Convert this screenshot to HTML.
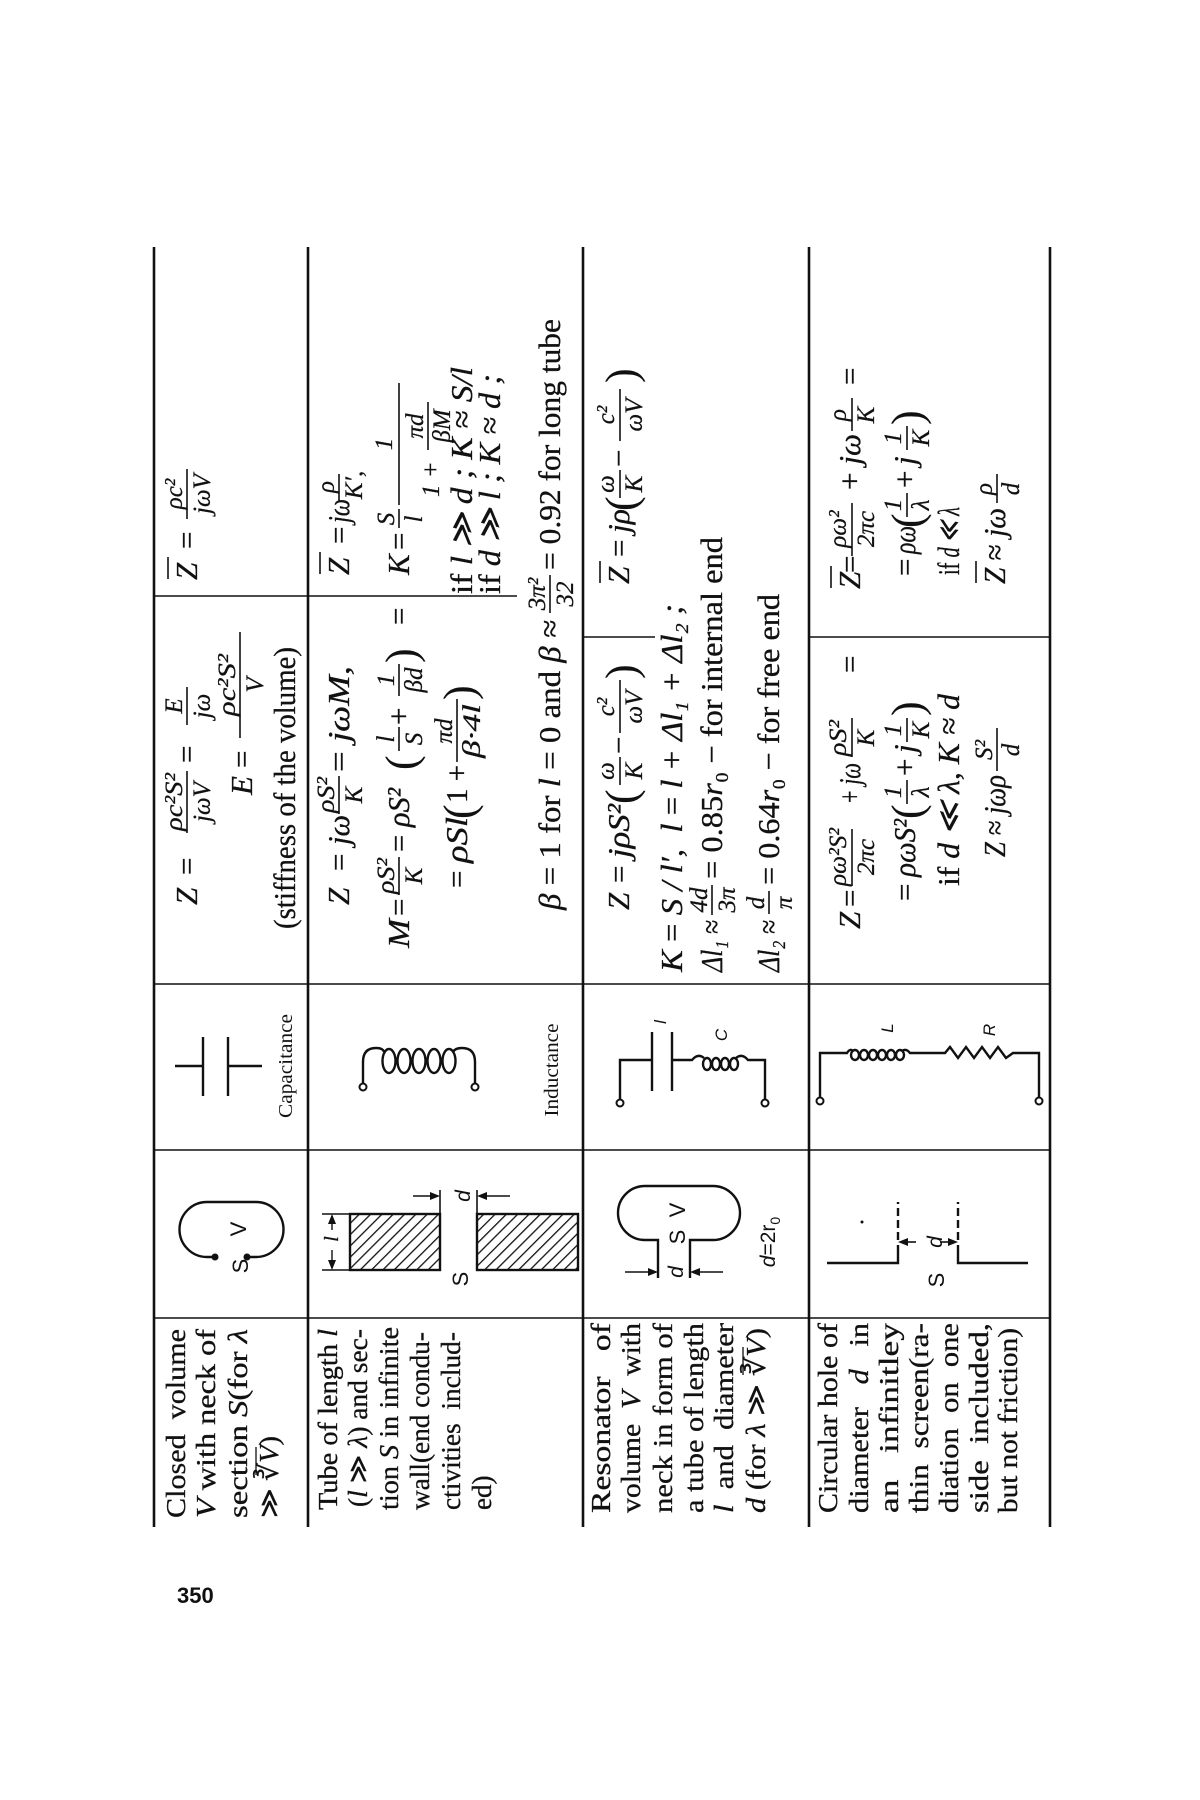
<!DOCTYPE html>
<html><head><meta charset="utf-8"><style>
html,body{margin:0;padding:0;background:#fff;}
svg{display:block;}
text{fill:#111;}
.m{font-family:"Liberation Serif",serif;font-style:italic;font-size:31px;stroke:#111;stroke-width:0.3;}
.u{font-family:"Liberation Serif",serif;font-size:31px;stroke:#111;stroke-width:0.3;}
.f{font-family:"Liberation Serif",serif;font-style:italic;font-size:25px;stroke:#111;stroke-width:0.25;}
.p{font-family:"Liberation Serif",serif;font-size:44px;}
.d{font-family:"Liberation Serif",serif;font-size:27px;stroke:#111;stroke-width:0.3;}
.s{font-family:"Liberation Sans",sans-serif;font-size:22px;}
.si{font-family:"Liberation Sans",sans-serif;font-style:italic;font-size:21px;}
.lab{font-family:"Liberation Serif",serif;font-size:20px;}
</style></head><body>
<svg width="1200" height="1800" viewBox="0 0 1200 1800" xmlns="http://www.w3.org/2000/svg">
<defs>
<pattern id="h" width="8" height="8" patternUnits="userSpaceOnUse" patternTransform="rotate(45)">
<rect width="8" height="8" fill="#fff"/><line x1="0" y1="0" x2="0" y2="8" stroke="#111" stroke-width="2.6"/>
</pattern>
</defs>
<rect width="1200" height="1800" fill="#fff"/>
<g stroke="#111" fill="none">
<line x1="154" y1="247" x2="154" y2="1527" stroke-width="2.6"/>
<line x1="308" y1="247" x2="308" y2="1527" stroke-width="2.6"/>
<line x1="583" y1="247" x2="583" y2="1527" stroke-width="2.6"/>
<line x1="809" y1="247" x2="809" y2="1527" stroke-width="2.6"/>
<line x1="1050" y1="247" x2="1050" y2="1527" stroke-width="2.6"/>
<line x1="154" y1="1318" x2="1050" y2="1318" stroke-width="1.6"/>
<line x1="154" y1="1150" x2="1050" y2="1150" stroke-width="1.6"/>
<line x1="154" y1="984" x2="1050" y2="984" stroke-width="1.6"/>
<line x1="154" y1="596" x2="308" y2="596" stroke-width="1.4"/>
<line x1="308" y1="596" x2="517" y2="596" stroke-width="1.4"/>
<line x1="583" y1="637" x2="655" y2="637" stroke-width="1.4"/>
<line x1="809" y1="637" x2="1050" y2="637" stroke-width="1.4"/>
</g>
<text x="177" y="1603" style="font-family:'Liberation Sans',sans-serif;font-weight:bold;font-size:22px">350</text>

<g stroke="#111" stroke-width="2.4" fill="none">
<path d="M215,1257 L207,1257 A27.5,27.5 0 0 1 207,1202 L256,1202 A27.5,27.5 0 0 1 256,1257 L247,1257"/>
<line x1="175" y1="1066" x2="203" y2="1066"/><line x1="203" y1="1037" x2="203" y2="1096"/>
<line x1="228" y1="1037" x2="228" y2="1096"/><line x1="228" y1="1066" x2="262" y2="1066"/>
<path d="M363,1084 V1062 Q363,1048 376,1048 Q383,1048 384,1052"/>
<path d="M475,1084 V1062 Q475,1048 462,1048 Q455,1048 453,1052"/>
<ellipse cx="389" cy="1061" rx="6.5" ry="12"/><ellipse cx="404" cy="1061" rx="6.5" ry="12"/>
<ellipse cx="419" cy="1061" rx="6.5" ry="12"/><ellipse cx="434" cy="1061" rx="6.5" ry="12"/>
<ellipse cx="449" cy="1061" rx="6.5" ry="12"/>
<rect x="350" y="1214" width="90" height="56" fill="url(#h)"/>
<rect x="477" y="1214" width="101" height="56" fill="url(#h)"/>
<line x1="322" y1="1214" x2="350" y2="1214" stroke-width="1.6"/><line x1="322" y1="1270" x2="350" y2="1270" stroke-width="1.6"/>
<line x1="332" y1="1216" x2="332" y2="1230" stroke-width="1.4"/><line x1="332" y1="1250" x2="332" y2="1268" stroke-width="1.4"/>
<line x1="440" y1="1190" x2="440" y2="1214" stroke-width="1.6"/><line x1="477" y1="1190" x2="477" y2="1214" stroke-width="1.6"/>
<line x1="413" y1="1196" x2="434" y2="1196" stroke-width="1.6"/><line x1="483" y1="1196" x2="510" y2="1196" stroke-width="1.6"/>
<path d="M620,1100 V1060 H652"/><line x1="652" y1="1032" x2="652" y2="1091"/>
<line x1="672" y1="1032" x2="672" y2="1091"/><path d="M672,1060 H692 Q698,1053 704,1058"/>
<path d="M736,1058 Q742,1053 748,1060 H765 V1100"/>
<ellipse cx="707" cy="1064" rx="4" ry="6"/><ellipse cx="716" cy="1064" rx="4" ry="6"/>
<ellipse cx="725" cy="1064" rx="4" ry="6"/><ellipse cx="734" cy="1064" rx="4" ry="6"/>
<path d="M658,1278 V1240 L645,1240 A27,27 0 0 1 645,1186 L713,1186 A27,27 0 0 1 713,1240 L690,1240 V1278"/>
<line x1="625" y1="1272" x2="652" y2="1272" stroke-width="1.6"/><line x1="696" y1="1272" x2="723" y2="1272" stroke-width="1.6"/>
<path d="M820,1098 V1053 H847 Q850,1048 853,1051"/>
<ellipse cx="855" cy="1055" rx="4" ry="5"/><ellipse cx="864" cy="1055" rx="4" ry="5"/>
<ellipse cx="873" cy="1055" rx="4" ry="5"/><ellipse cx="882" cy="1055" rx="4" ry="5"/>
<ellipse cx="891" cy="1055" rx="4" ry="5"/><ellipse cx="900" cy="1055" rx="4" ry="5"/>
<path d="M902,1051 Q906,1048 910,1053 H945 L950,1047 L958,1058 L966,1047 L974,1058 L982,1047 L990,1058 L998,1047 L1006,1058 L1013,1053 H1039 V1098"/>
<path d="M827,1263 H898 V1245"/><line x1="898" y1="1240" x2="898" y2="1202" stroke-dasharray="8,4"/>
<path d="M1028,1263 H958 V1245"/><line x1="958" y1="1240" x2="958" y2="1202" stroke-dasharray="8,4"/>
<line x1="904" y1="1242" x2="916" y2="1242" stroke-width="1.6"/><line x1="940" y1="1242" x2="952" y2="1242" stroke-width="1.6"/>
</g>
<g fill="#111">
<circle cx="215" cy="1257" r="3.5"/><circle cx="247" cy="1257" r="3.5"/>
<polygon points="332,1214 328,1224 336,1224"/><polygon points="332,1270 328,1260 336,1260"/>
<polygon points="440,1196 430,1192 430,1200"/><polygon points="477,1196 487,1192 487,1200"/>
<polygon points="658,1272 648,1268 648,1276"/><polygon points="690,1272 700,1268 700,1276"/>
<polygon points="898,1242 908,1238 908,1246"/><polygon points="958,1242 948,1238 948,1246"/>
<circle cx="862" cy="1222" r="1.5"/>
</g>
<g fill="#fff" stroke="#111" stroke-width="2">
<circle cx="363" cy="1087" r="3.5"/><circle cx="475" cy="1087" r="3.5"/>
<circle cx="620" cy="1103" r="3.5"/><circle cx="765" cy="1103" r="3.5"/>
<circle cx="820" cy="1101" r="3.5"/><circle cx="1039" cy="1101" r="3.5"/>
</g>

<g transform="translate(154,1525) rotate(-90)">
<g class="d">
<text x="7" y="31" textLength="189" lengthAdjust="spacingAndGlyphs">Closed&#160;&#160;volume</text>
<text x="7" y="61" textLength="189" lengthAdjust="spacingAndGlyphs"><tspan font-style="italic">V</tspan> with neck of</text>
<text x="7" y="93" textLength="189" lengthAdjust="spacingAndGlyphs">section <tspan font-style="italic">S</tspan>(for <tspan font-style="italic">λ</tspan></text>
<text x="7" y="124" textLength="82" lengthAdjust="spacingAndGlyphs">≫ ∛<tspan font-style="italic">V</tspan>)</text>
<text x="15" y="183" textLength="181" lengthAdjust="spacingAndGlyphs">Tube of length <tspan font-style="italic">l</tspan></text>
<text x="18" y="213" textLength="178" lengthAdjust="spacingAndGlyphs">(<tspan font-style="italic">l</tspan> ≫ <tspan font-style="italic">λ</tspan>) and sec-</text>
<text x="15" y="244" textLength="183" lengthAdjust="spacingAndGlyphs">tion <tspan font-style="italic">S</tspan> in infinite</text>
<text x="15" y="275" textLength="178" lengthAdjust="spacingAndGlyphs">wall(end condu-</text>
<text x="15" y="306" textLength="178" lengthAdjust="spacingAndGlyphs">ctivities&#160;&#160;includ-</text>
<text x="15" y="337">ed)</text>
<text x="12" y="456" textLength="190" lengthAdjust="spacingAndGlyphs">Resonator&#160;&#160;&#160;of</text>
<text x="12" y="486" textLength="190" lengthAdjust="spacingAndGlyphs">volume&#160;&#160;<tspan font-style="italic">V</tspan>&#160;&#160;with</text>
<text x="12" y="518" textLength="190" lengthAdjust="spacingAndGlyphs">neck in form of</text>
<text x="12" y="549" textLength="190" lengthAdjust="spacingAndGlyphs">a tube of length</text>
<text x="12" y="579" textLength="190" lengthAdjust="spacingAndGlyphs"><tspan font-style="italic">l</tspan>&#160;&#160;and&#160;&#160;diameter</text>
<text x="12" y="611" textLength="185" lengthAdjust="spacingAndGlyphs"><tspan font-style="italic">d</tspan> (for <tspan font-style="italic">λ</tspan> ≫ ∛<tspan font-style="italic">V</tspan>)</text>
<text x="12" y="683" textLength="190" lengthAdjust="spacingAndGlyphs">Circular hole of</text>
<text x="12" y="714" textLength="190" lengthAdjust="spacingAndGlyphs">diameter&#160;&#160;&#160;<tspan font-style="italic">d</tspan>&#160;&#160;&#160;in</text>
<text x="12" y="744" textLength="190" lengthAdjust="spacingAndGlyphs">an&#160;&#160;&#160;infinitley</text>
<text x="12" y="774" textLength="190" lengthAdjust="spacingAndGlyphs">thin&#160;&#160;screen(ra-</text>
<text x="12" y="804" textLength="190" lengthAdjust="spacingAndGlyphs">diation&#160;&#160;on&#160;&#160;one</text>
<text x="12" y="834" textLength="190" lengthAdjust="spacingAndGlyphs">side&#160;&#160;included,</text>
<text x="12" y="863" textLength="185" lengthAdjust="spacingAndGlyphs">but not friction)</text>
</g>
<g stroke="#111" stroke-width="1.3">
<line x1="50" y1="102" x2="78" y2="102"/><line x1="150" y1="589" x2="178" y2="589"/>
</g>
<text class="s" x="259" y="94" text-anchor="middle">S</text>
<text class="s" x="296" y="92" text-anchor="middle">V</text>
<text class="m" x="286" y="184" text-anchor="middle" style="font-size:20px">l</text>
<text class="s" x="246" y="314" text-anchor="middle">S</text>
<text class="si" x="329" y="316" text-anchor="middle">d</text>
<text class="si" x="503" y="512" text-anchor="middle" style="font-size:17px">l</text>
<text class="si" x="490" y="573" text-anchor="middle" style="font-size:17px">C</text>
<text class="s" x="315" y="531" text-anchor="middle">V</text>
<text class="s" x="288" y="531" text-anchor="middle">S</text>
<text class="si" x="253" y="529" text-anchor="middle">d</text>
<text class="si" x="283" y="621" text-anchor="middle">d<tspan font-style="normal">=2r</tspan><tspan font-style="normal" font-size="14" dy="5">0</tspan></text>
<text class="si" x="497" y="739" text-anchor="middle" style="font-size:17px">L</text>
<text class="si" x="495" y="841" text-anchor="middle" style="font-size:17px">R</text>
<text class="si" x="283" y="788" text-anchor="middle">d</text>
<text class="s" x="245" y="790" text-anchor="middle">S</text>
<text class="lab" x="459" y="138" text-anchor="middle" textLength="104" lengthAdjust="spacingAndGlyphs">Capacitance</text>
<text class="lab" x="455" y="404" text-anchor="middle" textLength="93" lengthAdjust="spacingAndGlyphs">Inductance</text>

<g stroke="#111" stroke-width="1.6">
<line x1="692" y1="33" x2="754" y2="33"/><line x1="800" y1="33" x2="838" y2="33"/>
<line x1="787" y1="86" x2="893" y2="86"/><line x1="1006" y1="33" x2="1056" y2="33"/>
<line x1="946" y1="14" x2="968" y2="14"/>
<line x1="711" y1="185" x2="749" y2="185"/>
<line x1="630" y1="245" x2="668" y2="245"/><line x1="774" y1="245" x2="798" y2="245"/><line x1="829" y1="245" x2="861" y2="245"/>
<line x1="763" y1="303" x2="826" y2="303"/>
<line x1="912" y1="396" x2="950" y2="396"/>
<line x1="951" y1="166" x2="973" y2="166"/><line x1="1024" y1="185" x2="1051" y2="185"/>
<line x1="997" y1="245" x2="1016" y2="245"/><line x1="1020" y1="245" x2="1142" y2="245"/><line x1="1075" y1="274" x2="1123" y2="274"/>
<line x1="740" y1="466" x2="768" y2="466"/><line x1="792" y1="466" x2="845" y2="466"/>
<line x1="942" y1="446" x2="964" y2="446"/><line x1="1027" y1="466" x2="1055" y2="466"/><line x1="1084" y1="466" x2="1136" y2="466"/>
<line x1="610" y1="558" x2="640" y2="558"/><line x1="611" y1="615" x2="634" y2="615"/>
<line x1="639" y1="698" x2="696" y2="698"/><line x1="768" y1="698" x2="807" y2="698"/>
<line x1="721" y1="753" x2="745" y2="753"/><line x1="783" y1="753" x2="807" y2="753"/>
<line x1="754" y1="843" x2="797" y2="843"/>
<line x1="937" y1="677" x2="959" y2="677"/><line x1="969" y1="698" x2="1022" y2="698"/><line x1="1094" y1="698" x2="1127" y2="698"/>
<line x1="1008" y1="753" x2="1032" y2="753"/><line x1="1075" y1="753" x2="1099" y2="753"/>
<line x1="942" y1="822" x2="964" y2="822"/><line x1="1022" y1="843" x2="1051" y2="843"/>
</g>

<!-- row 1 -->
<text class="m" x="620" y="43">Z</text><text class="u" x="650" y="43">=</text>
<text class="f" x="723" y="28" text-anchor="middle" textLength="58" lengthAdjust="spacingAndGlyphs">ρc²S²</text><text class="f" x="723" y="56" text-anchor="middle">jωV</text>
<text class="u" x="762" y="43">=</text>
<text class="f" x="819" y="28" text-anchor="middle">E</text><text class="f" x="819" y="56" text-anchor="middle">jω</text>
<text class="m" x="730" y="98">E</text><text class="u" x="757" y="98">=</text>
<text class="f" x="840" y="81" text-anchor="middle" textLength="62" lengthAdjust="spacingAndGlyphs">ρc²S²</text><text class="f" x="840" y="109" text-anchor="middle">V</text>
<text class="u" x="596" y="141" textLength="282" lengthAdjust="spacingAndGlyphs">(stiffness of the volume)</text>
<text class="m" x="945" y="43">Z</text><text class="u" x="976" y="43">=</text>
<text class="f" x="1031" y="28" text-anchor="middle">ρc²</text><text class="f" x="1031" y="56" text-anchor="middle">jωV</text>

<!-- row 2 -->
<text class="m" x="620" y="195">Z</text><text class="u" x="654" y="195">=</text><text class="m" x="680" y="195" textLength="30" lengthAdjust="spacingAndGlyphs">jω</text>
<text class="f" x="730" y="180" text-anchor="middle" textLength="36" lengthAdjust="spacingAndGlyphs">ρS²</text><text class="f" x="730" y="208" text-anchor="middle">K</text>
<text class="m" x="753" y="195" textLength="106" lengthAdjust="spacingAndGlyphs"><tspan font-style="normal">=</tspan> jωM,</text>
<text class="m" x="577" y="255" textLength="29" lengthAdjust="spacingAndGlyphs">M</text><text class="u" x="609" y="255">=</text>
<text class="f" x="649" y="240" text-anchor="middle" textLength="36" lengthAdjust="spacingAndGlyphs">ρS²</text><text class="f" x="649" y="268" text-anchor="middle">K</text>
<text class="m" x="673" y="255" textLength="64" lengthAdjust="spacingAndGlyphs"><tspan font-style="normal">=</tspan> ρS²</text>
<text class="p" x="755" y="262">(</text>
<text class="f" x="786" y="240" text-anchor="middle">l</text><text class="f" x="786" y="268" text-anchor="middle">S</text>
<text class="u" x="800" y="255">+</text>
<text class="f" x="845" y="240" text-anchor="middle">1</text><text class="f" x="845" y="268" text-anchor="middle">βd</text>
<text class="p" x="862" y="262">)</text><text class="u" x="900" y="255">=</text>
<text class="u" x="637" y="313">=</text><text class="m" x="662" y="313" textLength="46" lengthAdjust="spacingAndGlyphs">ρSl</text><text class="p" x="706" y="320">(</text>
<text class="u" x="722" y="313" textLength="38" lengthAdjust="spacingAndGlyphs">1 +</text>
<text class="f" x="794" y="298" text-anchor="middle">πd</text><text class="f" x="794" y="326" text-anchor="middle" textLength="54" lengthAdjust="spacingAndGlyphs">β·4l</text>
<text class="p" x="825" y="320">)</text>
<text class="m" x="615" y="406" textLength="290" lengthAdjust="spacingAndGlyphs">β <tspan font-style="normal">= 1 for</tspan> l <tspan font-style="normal">= 0 and</tspan> β ≈</text>
<text class="f" x="931" y="391" text-anchor="middle">3π²</text><text class="f" x="931" y="419" text-anchor="middle">32</text>
<text class="u" x="955" y="406" textLength="251" lengthAdjust="spacingAndGlyphs">= 0.92 for long tube</text>
<text class="m" x="950" y="195">Z</text><text class="u" x="981" y="195">=</text><text class="m" x="1002" y="195" textLength="24" lengthAdjust="spacingAndGlyphs">jω</text>
<text class="f" x="1038" y="180" text-anchor="middle">ρ</text><text class="f" x="1040" y="208" text-anchor="middle">K′,</text>
<text class="m" x="950" y="255">K</text><text class="u" x="975" y="255">=</text>
<text class="f" x="1006" y="240" text-anchor="middle">S</text><text class="f" x="1006" y="268" text-anchor="middle">l</text>
<text class="f" x="1081" y="238" text-anchor="middle">1</text>
<text class="f" x="1028" y="285">1 +</text>
<text class="f" x="1099" y="269" text-anchor="middle">πd</text><text class="f" x="1099" y="296" text-anchor="middle">βM</text>
<text class="m" x="931" y="318" textLength="227" lengthAdjust="spacingAndGlyphs"><tspan font-style="normal">if</tspan> l ≫ d ; K ≈ S/l</text>
<text class="m" x="931" y="346" textLength="220" lengthAdjust="spacingAndGlyphs"><tspan font-style="normal">if</tspan> d ≫ l ; K ≈ d ;</text>

<!-- row 3 -->
<text class="m" x="615" y="475">Z</text><text class="u" x="642" y="475">=</text><text class="m" x="667" y="475" textLength="54" lengthAdjust="spacingAndGlyphs">jρS²</text>
<text class="p" x="721" y="482">(</text>
<text class="f" x="754" y="460" text-anchor="middle">ω</text><text class="f" x="754" y="488" text-anchor="middle">K</text>
<text class="u" x="771" y="475">−</text>
<text class="f" x="818" y="460" text-anchor="middle">c²</text><text class="f" x="818" y="488" text-anchor="middle">ωV</text>
<text class="p" x="846" y="482">)</text>
<text class="m" x="553" y="528" textLength="368" lengthAdjust="spacingAndGlyphs">K <tspan font-style="normal">=</tspan> S / l′, &#160;l <tspan font-style="normal">=</tspan> l + Δl₁ + Δl₂ ;</text>
<text class="m" x="553" y="568" textLength="52" lengthAdjust="spacingAndGlyphs">Δl₁ ≈</text>
<text class="f" x="625" y="553" text-anchor="middle">4d</text><text class="f" x="625" y="581" text-anchor="middle">3π</text>
<text class="u" x="646" y="568" textLength="342" lengthAdjust="spacingAndGlyphs">= 0.85<tspan font-style="italic">r</tspan>₀ − for internal end</text>
<text class="m" x="553" y="625" textLength="52" lengthAdjust="spacingAndGlyphs">Δl₂ ≈</text>
<text class="f" x="622" y="610" text-anchor="middle">d</text><text class="f" x="622" y="638" text-anchor="middle">π</text>
<text class="u" x="640" y="625" textLength="291" lengthAdjust="spacingAndGlyphs">= 0.64<tspan font-style="italic">r</tspan>₀ − for free end</text>
<text class="m" x="941" y="475">Z</text><text class="u" x="968" y="475">=</text><text class="m" x="992" y="475" textLength="24" lengthAdjust="spacingAndGlyphs">jρ</text>
<text class="p" x="1014" y="482">(</text>
<text class="f" x="1041" y="460" text-anchor="middle">ω</text><text class="f" x="1041" y="488" text-anchor="middle">K</text>
<text class="u" x="1058" y="475">−</text>
<text class="f" x="1110" y="460" text-anchor="middle">c²</text><text class="f" x="1110" y="488" text-anchor="middle">ωV</text>
<text class="p" x="1142" y="482">)</text>

<!-- row 4 -->
<text class="m" x="596" y="706">Z</text><text class="u" x="618" y="706">=</text>
<text class="f" x="668" y="692" text-anchor="middle" textLength="58" lengthAdjust="spacingAndGlyphs">ρω²S²</text><text class="f" x="668" y="720" text-anchor="middle">2πc</text>
<text class="m" x="722" y="706" textLength="40" lengthAdjust="spacingAndGlyphs"><tspan font-style="normal">+</tspan> jω</text>
<text class="f" x="787" y="692" text-anchor="middle" textLength="36" lengthAdjust="spacingAndGlyphs">ρS²</text><text class="f" x="787" y="720" text-anchor="middle">K</text>
<text class="u" x="852" y="706">=</text>
<text class="u" x="624" y="761">=</text><text class="m" x="648" y="761" textLength="58" lengthAdjust="spacingAndGlyphs">ρωS²</text><text class="p" x="706" y="768">(</text>
<text class="f" x="733" y="747" text-anchor="middle">1</text><text class="f" x="733" y="775" text-anchor="middle">λ</text>
<text class="u" x="749" y="761">+</text><text class="m" x="772" y="761">j</text>
<text class="f" x="795" y="747" text-anchor="middle">1</text><text class="f" x="795" y="775" text-anchor="middle">K</text>
<text class="p" x="809" y="768">)</text>
<text class="m" x="639" y="805" textLength="192" lengthAdjust="spacingAndGlyphs"><tspan font-style="normal">if</tspan> d ≪ λ, K ≈ d</text>
<text class="m" x="668" y="851" textLength="82" lengthAdjust="spacingAndGlyphs">Z ≈ jωρ</text>
<text class="f" x="775" y="838" text-anchor="middle">S²</text><text class="f" x="775" y="865" text-anchor="middle">d</text>
<text class="m" x="936" y="706">Z</text><text class="u" x="952" y="706">=</text>
<text class="f" x="996" y="692" text-anchor="middle">ρω²</text><text class="f" x="996" y="720" text-anchor="middle">2πc</text>
<text class="m" x="1035" y="706" textLength="56" lengthAdjust="spacingAndGlyphs"><tspan font-style="normal">+</tspan> jω</text>
<text class="f" x="1110" y="692" text-anchor="middle">ρ</text><text class="f" x="1110" y="720" text-anchor="middle">K</text>
<text class="u" x="1140" y="706">=</text>
<text class="u" x="949" y="761">=</text><text class="m" x="971" y="761" textLength="28" lengthAdjust="spacingAndGlyphs">ρω</text><text class="p" x="997" y="768">(</text>
<text class="f" x="1020" y="747" text-anchor="middle">1</text><text class="f" x="1020" y="775" text-anchor="middle">λ</text>
<text class="u" x="1037" y="761">+</text><text class="m" x="1060" y="761">j</text>
<text class="f" x="1087" y="747" text-anchor="middle">1</text><text class="f" x="1087" y="775" text-anchor="middle">K</text>
<text class="p" x="1100" y="768">)</text>
<text class="m" x="950" y="805" textLength="68" lengthAdjust="spacingAndGlyphs"><tspan font-style="normal">if</tspan> d ≪ λ</text>
<text class="m" x="941" y="851" textLength="76" lengthAdjust="spacingAndGlyphs">Z <tspan font-style="normal">≈</tspan> jω</text>
<text class="f" x="1036" y="838" text-anchor="middle">ρ</text><text class="f" x="1036" y="865" text-anchor="middle">d</text>
</g>
</svg>
</body></html>
